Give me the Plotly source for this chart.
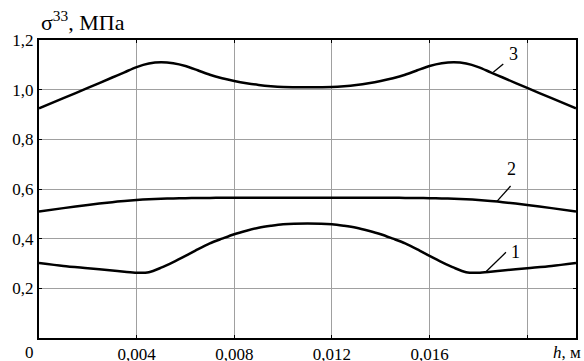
import plotly.graph_objects as go

h = [0.0, 0.001, 0.002, 0.003, 0.0035, 0.004, 0.0045, 0.005, 0.0055, 0.006, 0.0065, 0.007, 0.0075, 0.008, 0.0085,
     0.009, 0.0095, 0.010, 0.011,
     0.012, 0.0125, 0.013, 0.0135, 0.014, 0.0145, 0.015, 0.0155, 0.016, 0.0165, 0.017, 0.0175, 0.018, 0.0185,
     0.019, 0.020, 0.021, 0.022]

curve1 = [0.302, 0.290, 0.281, 0.272, 0.267, 0.263, 0.265, 0.283, 0.306, 0.331, 0.357, 0.381, 0.400, 0.418, 0.432,
          0.444, 0.452, 0.458, 0.461,
          0.458, 0.452, 0.444, 0.432, 0.418, 0.400, 0.381, 0.357, 0.331, 0.306, 0.283, 0.265, 0.263, 0.267,
          0.272, 0.281, 0.290, 0.302]
curve2 = [0.509, 0.523, 0.536, 0.547, 0.552, 0.556, 0.559, 0.561, 0.562, 0.563, 0.564, 0.564, 0.565, 0.565, 0.565,
          0.565, 0.565, 0.565, 0.565,
          0.565, 0.565, 0.565, 0.565, 0.565, 0.565, 0.564, 0.564, 0.563, 0.562, 0.561, 0.559, 0.556, 0.552,
          0.547, 0.536, 0.523, 0.509]
curve3 = [0.925, 0.966, 1.007, 1.049, 1.070, 1.091, 1.105, 1.110, 1.106, 1.095, 1.078, 1.060, 1.046, 1.035, 1.026,
          1.019, 1.014, 1.011, 1.010,
          1.011, 1.014, 1.019, 1.026, 1.035, 1.046, 1.060, 1.078, 1.095, 1.106, 1.110, 1.105, 1.091, 1.070,
          1.049, 1.007, 0.966, 0.925]

x_ticks = [0.004, 0.008, 0.012, 0.016, 0.020]
x_tick_labels = ["0,004", "0,008", "0,012", "0,016", ""]
y_ticks = [0.2, 0.4, 0.6, 0.8, 1.0, 1.2]
y_tick_labels = ["0,2", "0,4", "0,6", "0,8", "1,0", "1,2"]

FONT = "Liberation Serif"

fig = go.Figure()
for ys in (curve1, curve2, curve3):
    fig.add_trace(go.Scatter(x=h, y=ys, mode="lines",
                             line=dict(color="black", width=2.5, shape="spline", smoothing=0.8),
                             showlegend=False, hoverinfo="skip"))

# curve number labels with leader lines
labels = [
    ("1", (0.01831, 0.267), (0.01913, 0.345), (0.01954, 0.348)),
    ("2", (0.01875, 0.549), (0.01932, 0.612), (0.01937, 0.679)),
    ("3", (0.01861, 1.070), (0.01902, 1.103), (0.01942, 1.144)),
]
for txt, p0, p1, pt in labels:
    fig.add_shape(type="line", x0=p0[0], y0=p0[1], x1=p1[0], y1=p1[1], line=dict(color="black", width=1.3))
    fig.add_annotation(x=pt[0], y=pt[1], text=txt, showarrow=False,
                       font=dict(family=FONT, size=18, color="black"),
                       xanchor="center", yanchor="middle")

fig.add_annotation(xref="paper", yref="paper", x=0.0, y=1.01, text="σ<sup>33</sup>, МПа", showarrow=False,
                   xanchor="left", yanchor="bottom", font=dict(family=FONT, size=22, color="black"))
fig.add_annotation(xref="paper", yref="paper", x=-0.0186, y=-0.05, text="0", showarrow=False,
                   xanchor="center", yanchor="middle", font=dict(family=FONT, size=17, color="black"))
fig.add_annotation(xref="paper", yref="paper", x=0.953, y=-0.05, text="<i>h</i>, м", showarrow=False,
                   xanchor="left", yanchor="middle", font=dict(family=FONT, size=17, color="black"))

axis_common = dict(showline=True, linecolor="black", linewidth=2, mirror="ticks", ticks="inside", ticklen=3,
                   tickcolor="black", tickwidth=1, showgrid=True, gridcolor="#a0a0a0", gridwidth=1, zeroline=False,
                   tickfont=dict(family=FONT, size=17, color="black"))
fig.update_xaxes(range=[0, 0.022], tickmode="array", tickvals=x_ticks, ticktext=x_tick_labels, **axis_common)
fig.update_yaxes(range=[0, 1.2], tickmode="array", tickvals=y_ticks, ticktext=y_tick_labels, **axis_common)

fig.update_layout(template="none", width=584, height=361, margin=dict(l=39, r=8, t=40, b=23),
                  plot_bgcolor="white", paper_bgcolor="white",
                  font=dict(family=FONT, size=17, color="black"))

fig.write_html("out.html", config={"displayModeBar": False},
               post_script="document.body.style.margin='0';document.body.style.overflow='hidden';")
